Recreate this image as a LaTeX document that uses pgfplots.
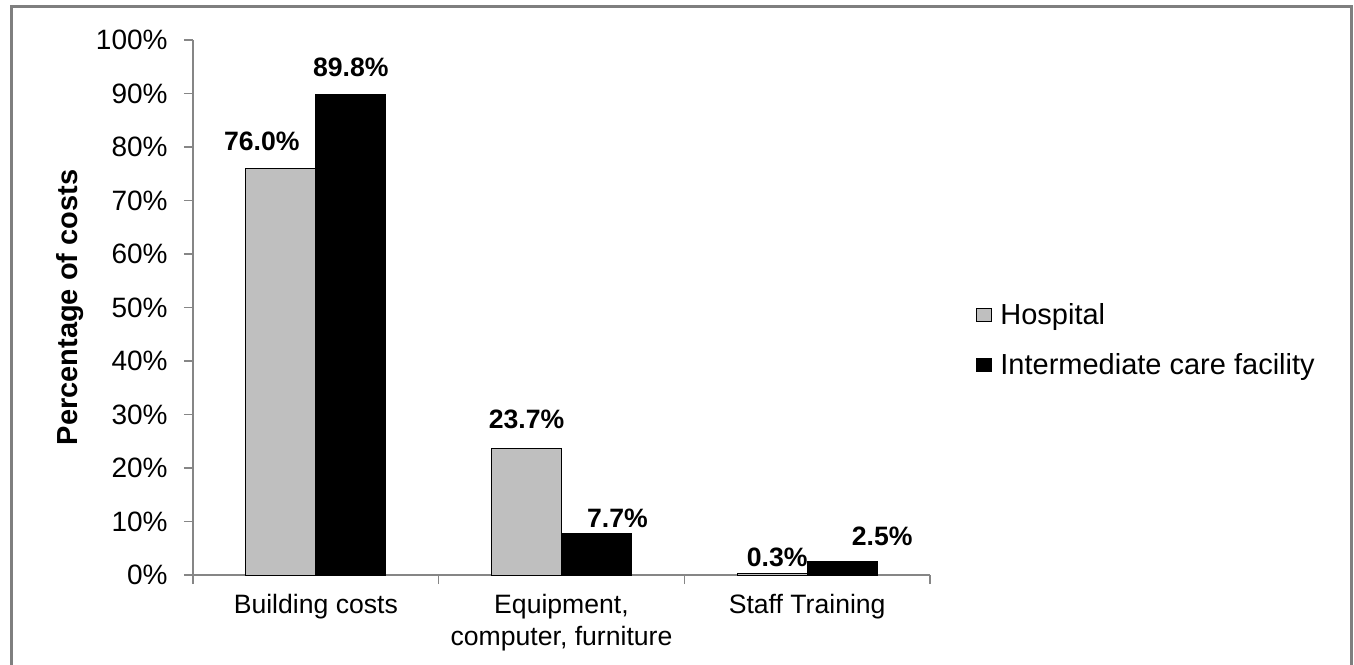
\documentclass[border=0pt]{standalone}
\usepackage{pgfplots}
\pgfplotsset{compat=1.18}
\usepackage{fontspec}
\setmainfont{Liberation Sans}

\definecolor{axisgray}{HTML}{868686}
\definecolor{framegray}{HTML}{7F7F7F}
\definecolor{hospgray}{HTML}{BFBFBF}

\tikzset{lbl/.style={anchor=base, inner sep=0pt, font=\bfseries\fontsize{13.3}{16}\selectfont}}

\begin{document}
\begin{tikzpicture}[x=1pt,y=1pt]
\useasboundingbox (0,0) rectangle (677,332);
% outer frame (open at the bottom)
\draw[framegray, line width=1.5pt] (5.5,-5) -- (5.5,328.5) -- (675.75,328.5) -- (675.75,-5);
\begin{axis}[
  at={(96.5pt,44.5pt)}, anchor=south west,
  scale only axis, width=368.5pt, height=267.5pt,
  ybar=0pt, bar width=0.285,
  xmin=-0.5, xmax=2.5, ymin=0, ymax=100,
  clip=false,
  axis lines=left,
  axis line style={axisgray, line width=0.7pt, -},
  tick align=outside, major tick length=4.5pt,
  tick style={axisgray, line width=0.7pt},
  /pgf/number format/assume math mode=true,
  ytick={0,10,...,100},
  yticklabel={\pgfmathprintnumber{\tick}\%},
  yticklabel style={font=\fontsize{14}{16}\selectfont, inner sep=0pt, anchor=east},
  yticklabel shift=8pt,
  xtick={-0.5,0.5,1.5,2.5},
  x tick label as interval,
  xticklabels={Building costs, {Equipment,\\computer, furniture}, Staff Training},
  xticklabel style={font=\fontsize{13.3}{16}\selectfont, align=center, inner sep=0pt, anchor=north},
  xticklabel shift=5pt,
  every axis y label/.style={at={(rel axis cs:0,0.5)}, xshift=-61.5pt, rotate=90, anchor=center,
    font=\bfseries\fontsize{14.5}{16}\selectfont},
  ylabel={Percentage of costs},
  legend style={at={(axis description cs:1.0624,0.439)}, anchor=west, draw=none, fill=none,
    font=\fontsize{14.5}{17}\selectfont, row sep=9pt, inner sep=0pt, nodes={inner sep=2pt}},
  legend cell align=left,
  legend image code/.code={\draw[#1, line width=0.5pt] (0pt,-3.3pt) rectangle (7.5pt,3.3pt);
    \path (9.5pt,0pt);},
]
\addplot[fill=hospgray, draw=black, line width=0.5pt] coordinates {(0,76.0) (1,23.7) (2,0.3)};
\addlegendentry{Hospital}
\addplot[fill=black, draw=black, line width=0.5pt] coordinates {(0,89.8) (1,7.7) (2,2.5)};
\addlegendentry{Intermediate care facility}

% value labels above the bars
\node[lbl, xshift=-9.5pt, yshift=9pt]  at (axis cs:-0.1425,76.0) {76.0\%};
\node[lbl, yshift=9pt]                 at (axis cs:0.1425,89.8)  {89.8\%};
\node[lbl, yshift=10pt]                at (axis cs:0.8575,23.7)  {23.7\%};
\node[lbl, xshift=10.5pt, yshift=3.4pt] at (axis cs:1.1425,7.7)  {7.7\%};
\node[lbl, xshift=2.5pt, yshift=3.2pt] at (axis cs:1.8575,0.3)   {0.3\%};
\node[lbl, xshift=20pt, yshift=8.3pt]  at (axis cs:2.1425,2.5)   {2.5\%};
\end{axis}
\end{tikzpicture}
\end{document}
